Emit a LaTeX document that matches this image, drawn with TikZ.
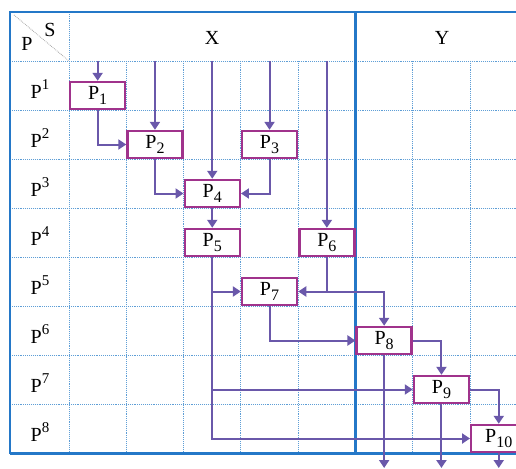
\documentclass[tikz,border=0pt]{standalone}
\usepackage{fontspec}
\setmainfont{Liberation Serif}
\usetikzlibrary{arrows.meta}
\definecolor{frameblue}{HTML}{2478C8}
\definecolor{gridblue}{HTML}{5E9ED6}
\definecolor{arrowc}{HTML}{6A58AA}
\definecolor{boxc}{HTML}{A0338C}
\newcommand{\Psub}[1]{P\raisebox{-0.28em}{\fontsize{16}{16}\selectfont #1}}
\newcommand{\Psup}[1]{P\raisebox{0.42em}{\fontsize{15}{15}\selectfont #1}}
\begin{document}
\begin{tikzpicture}[x=1pt,y=-1pt,
  gridline/.style={gridblue, line width=0.9pt, densely dotted},
  frameline/.style={frameblue, line width=2.6pt},
  proc/.style={draw=boxc, line width=2.4pt, fill=white, minimum width=55pt, minimum height=27pt, inner sep=0pt, font=\fontsize{20}{20}\selectfont},
  arr/.style={arrowc, line width=2pt, -{Triangle[width=10pt,length=8pt]}},
  lab/.style={font=\fontsize{20}{20}\selectfont, inner sep=0pt}]
\useasboundingbox (0,0) rectangle (516,468);
\clip (0,0) rectangle (516,468);
% grid
\foreach \y in {61,110,...,404} \draw[gridline] (10,\y) -- (527,\y);
\draw[gridline] (69,12) -- (69,453);
\foreach \x in {126.3,183.6,240.9,298.2,412.8,470.1} \draw[gridline] (\x,61) -- (\x,453);
\draw[gray!70, line width=0.8pt, densely dotted] (14,15) -- (69,61);
% frame
\draw[frameline] (10,453.5) -- (10,12) -- (530,12);
\draw[frameline] (10,453.5) -- (530,453.5);
\draw[frameline] (355.5,12) -- (355.5,453.5);
% header
\node[lab] (hS) at (50,30) {S};
\node[lab] (hP) at (27,44) {P};
\node[lab] (hX) at (212,38) {X};
\node[lab] (hY) at (442,38) {Y};
% row labels
\foreach \k in {1,...,8} \node[lab] (r\k) at (40,{89+49*(\k-1)}) {\Psup{\k}};
% boxes
\node[proc] (P1) at (97.65,95.5) {\Psub{1}};
\node[proc] (P2) at (154.95,144.5) {\Psub{2}};
\node[proc] (P3) at (269.55,144.5) {\Psub{3}};
\node[proc] (P4) at (212.25,193.5) {\Psub{4}};
\node[proc] (P5) at (212.25,242.5) {\Psub{5}};
\node[proc] (P6) at (326.85,242.5) {\Psub{6}};
\node[proc] (P7) at (269.55,291.5) {\Psub{7}};
\node[proc] (P8) at (384.15,340.5) {\Psub{8}};
\node[proc] (P9) at (441.45,389.5) {\Psub{9}};
\node[proc] (P10) at (498.75,438.5) {\Psub{10}};
% free ends
\coordinate (t1) at (97.65,61);
\coordinate (t2) at (154.95,61);
\coordinate (t3) at (269.55,61);
\coordinate (t4) at (212.25,61);
\coordinate (t5) at (326.85,61);
\coordinate (o1) at (384.15,468);
\coordinate (o2) at (441.45,468);
\coordinate (o3) at (498.75,468);
% connectors
\draw[arr] (t1) -- (P1.north);
\draw[arr] (t2) -- (P2.north);
\draw[arr] (t3) -- (P3.north);
\draw[arr] (t4) -- (P4.north);
\draw[arr] (t5) -- (P6.north);
\draw[arr] (P1.south) |- (P2.west);
\draw[arr] (P2.south) |- (P4.west);
\draw[arr] (P3.south) |- (P4.east);
\draw[arr] (P4.south) -- (P5.north);
\draw[arr] (P5.south) |- (P7.west);
\draw[arr] (P5.south) |- (P9.west);
\draw[arr] (P5.south) |- (P10.west);
\draw[arr] (P6.south) |- (P7.east);
\draw[arr] (P6.south |- P7.east) -| (P8.north);
\draw[arr] (P7.south) |- (P8.west);
\draw[arr] (P8.east) -| (P9.north);
\draw[arr] (P9.east) -| (P10.north);
\draw[arr] (P8.south) -- (o1);
\draw[arr] (P9.south) -- (o2);
\draw[arr] (P10.south) -- (o3);
\end{tikzpicture}
\end{document}
